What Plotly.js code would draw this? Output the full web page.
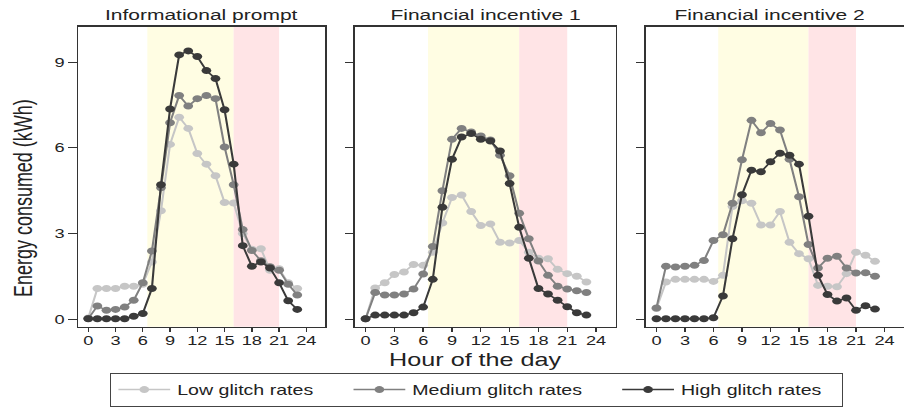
<!DOCTYPE html>
<html>
<head>
<meta charset="utf-8">
<script src="https://cdn.plot.ly/plotly-3.0.1.min.js"></script>
<style>
  html, body { margin: 0; padding: 0; background: #fff; overflow: hidden; }
  #wrap { width: 904px; height: 407px; overflow: hidden; position: relative; }
  #chart { width: 646px; height: 407px; transform: scaleX(1.39938); transform-origin: 0 0; }
</style>
</head>
<body>
<div id="wrap"><div id="chart"></div></div>
<script>
// ---- data ----
const hours = [0,1,2,3,4,5,6,7,8,9,10,11,12,13,14,15,16,17,18,19,20,21,22,23];
const panelTitles = ["Informational prompt", "Financial incentive 1", "Financial incentive 2"];
const seriesNames = ["Low glitch rates", "Medium glitch rates", "High glitch rates"];
const xTicks = [0,3,6,9,12,15,18,21,24];
const yTicks = [0,3,6,9];

// Informational prompt
const low1  = [0.05,1.08,1.08,1.08,1.16,1.16,1.23,2.01,3.80,6.12,7.07,6.68,5.80,5.43,5.02,4.09,4.07,3.00,2.45,2.47,1.72,1.77,1.28,1.08];
const med1  = [0.03,0.47,0.32,0.35,0.43,0.67,1.28,2.39,4.60,6.88,7.83,7.46,7.72,7.83,7.72,6.03,4.71,3.14,2.41,2.05,1.84,1.72,1.23,0.85];
const high1 = [0.02,0.02,0.02,0.02,0.02,0.11,0.21,1.08,4.71,7.36,9.25,9.39,9.19,8.70,8.42,7.33,5.43,2.58,1.86,2.01,1.80,1.28,0.65,0.35];
// Financial incentive 1
const low2  = [0.02,1.10,1.28,1.57,1.66,1.92,1.89,2.35,3.37,4.26,4.35,3.77,3.28,3.34,2.70,2.67,2.76,2.35,2.14,2.12,1.75,1.60,1.51,1.31];
const med2  = [0.02,0.94,0.85,0.85,0.89,1.06,1.59,2.55,4.50,6.30,6.68,6.55,6.41,6.27,5.74,5.02,3.71,2.82,2.04,1.54,1.16,1.06,1.00,0.94];
const high2 = [0.02,0.15,0.15,0.15,0.15,0.23,0.43,1.40,3.92,5.60,6.38,6.50,6.30,6.24,5.89,4.75,3.22,2.14,1.08,0.89,0.67,0.44,0.23,0.15];
// Financial incentive 2
const low3  = [0.38,1.31,1.40,1.40,1.40,1.40,1.33,1.54,3.95,4.15,4.06,3.30,3.30,3.77,2.70,2.30,2.12,1.19,1.16,1.14,1.60,2.35,2.24,2.03];
const med3  = [0.40,1.86,1.83,1.86,1.89,2.06,2.76,2.96,4.06,5.58,6.96,6.53,6.85,6.62,5.60,4.29,2.62,1.80,2.14,2.21,1.80,1.62,1.63,1.51];
const high3 = [0.02,0.02,0.02,0.02,0.02,0.02,0.06,0.82,2.82,4.36,5.22,5.16,5.51,5.81,5.74,5.43,3.61,1.54,0.87,0.64,0.75,0.32,0.48,0.36];

// shaded periods (hours)
const offPeak = [6.5, 16];
const peak = [16, 21];

// ---- styling ----
const colors = ["#c6c6c6", "#808080", "#3a3a3a"];
const legendWidths = [116, 140, 110];
const panels = [[low1, med1, high1], [low2, med2, high2], [low3, med3, high3]];
const xDomains = [[0.0866, 0.3595], [0.3927, 0.6811], [0.7146, 1.0]];
const titleX = [0.2231, 0.5369, 0.8518];
const yDomain = [0.1934, 0.9344];
const axisColor = "#333";

const traces = [];
panels.forEach((series, p) => {
  series.forEach((vals, s) => {
    traces.push({
      x: hours, y: vals, type: "scatter", mode: "lines+markers",
      name: seriesNames[s],
      legendgroup: seriesNames[s],
      showlegend: p === 0,
      legendwidth: legendWidths[s],
      xaxis: p === 0 ? "x" : "x" + (p + 1),
      yaxis: p === 0 ? "y" : "y" + (p + 1),
      line: { color: colors[s], width: 1.5 },
      marker: { color: colors[s], size: 7 },
      hoverinfo: "skip"
    });
  });
});

const layout = {
  width: 646, height: 407,
  margin: { l: 0, r: 0, t: 0, b: 0 },
  paper_bgcolor: "#fff", plot_bgcolor: "#fff",
  font: { family: "Liberation Sans, Arial, Helvetica, sans-serif", color: "#222", size: 13 },
  showlegend: true,
  legend: {
    orientation: "h", x: 0.1217, xanchor: "left", y: 0.079, yanchor: "top",
    bordercolor: "#444", borderwidth: 1, bgcolor: "#fff", itemwidth: 37,
    font: { size: 14, color: "#222" }, traceorder: "normal"
  },
  shapes: [],
  annotations: []
};

for (let p = 0; p < 3; p++) {
  const xk = p === 0 ? "xaxis" : "xaxis" + (p + 1);
  const yk = p === 0 ? "yaxis" : "yaxis" + (p + 1);
  const xr = p === 0 ? "x" : "x" + (p + 1);
  const yr = p === 0 ? "y" : "y" + (p + 1);
  layout[xk] = {
    domain: xDomains[p], range: [-1.1, 26.05], anchor: yr,
    tickvals: xTicks, ticktext: xTicks.map(String),
    ticks: "outside", ticklen: 4, tickwidth: 1, tickcolor: axisColor, ticklabelstandoff: -2,
    showline: true, linecolor: axisColor, linewidth: 1.2, mirror: true,
    showgrid: false, zeroline: false, tickfont: { size: 13, color: "#222" }, fixedrange: true
  };
  layout[yk] = {
    domain: yDomain, range: [-0.254, 10.24], anchor: xr,
    tickvals: yTicks, ticktext: yTicks.map(String),
    ticks: "outside", ticklen: 6, tickwidth: 1, tickcolor: axisColor,
    showticklabels: p === 0,
    showline: true, linecolor: axisColor, linewidth: 1.2, mirror: p !== 2,
    showgrid: false, zeroline: false, tickfont: { size: 13, color: "#222" }, fixedrange: true
  };
  layout.shapes.push({
    type: "rect", xref: xr, yref: yr + " domain", x0: offPeak[0], x1: offPeak[1], y0: 0, y1: 1,
    fillcolor: "#fffde3", line: { width: 0 }, layer: "below"
  });
  layout.shapes.push({
    type: "rect", xref: xr, yref: yr + " domain", x0: peak[0], x1: peak[1], y0: 0, y1: 1,
    fillcolor: "#ffe4e6", line: { width: 0 }, layer: "below"
  });
  layout.annotations.push({
    text: panelTitles[p], xref: "paper", yref: "paper", x: titleX[p], y: 0.963,
    xanchor: "center", yanchor: "middle", showarrow: false, font: { size: 15, color: "#222" }
  });
}

layout.annotations.push({
  text: "Energy consumed (kWh)", xref: "paper", yref: "paper", x: 0.0265, y: 0.511,
  xanchor: "center", yanchor: "middle", textangle: -90, showarrow: false, font: { size: 18, color: "#222" }
});
layout.annotations.push({
  text: "Hour of the day", xref: "paper", yref: "paper", x: 0.525, y: 0.111,
  xanchor: "center", yanchor: "middle", showarrow: false, font: { size: 18, color: "#222" }
});

Plotly.newPlot("chart", traces, layout, { displayModeBar: false, staticPlot: true });
</script>
</body>
</html>
